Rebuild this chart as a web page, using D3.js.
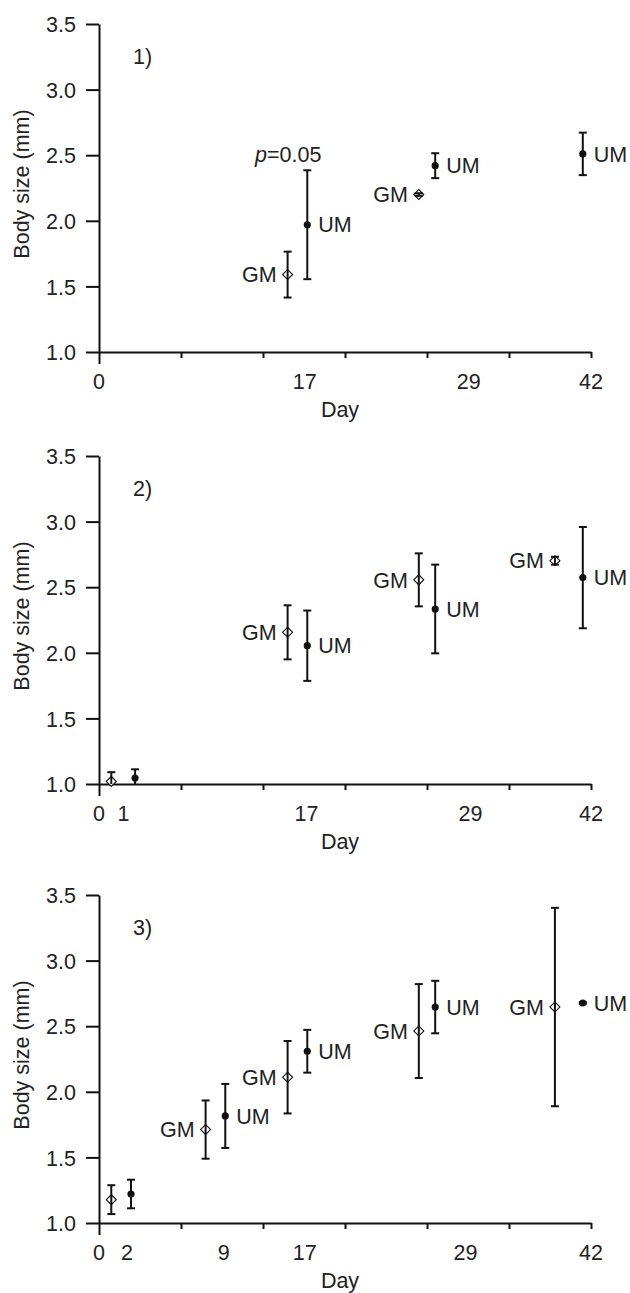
<!DOCTYPE html>
<html>
<head>
<meta charset="utf-8">
<script src="https://cdn.jsdelivr.net/npm/d3@7"></script>
<style>
    body { margin: 0; background: #fff; }
    svg { display: block; font-family: 'Liberation Sans', Arial, sans-serif; }
    .axis path, .axis line { stroke: #111; stroke-width: 2; }
    .axis text { font-size: 21.5px; fill: #222; font-family: 'Liberation Sans', Arial, sans-serif; }
    .lbl { font-size: 21.5px; fill: #222; }
</style>
</head>
<body>
<div id="chart"></div>
<script>
const config = {
    width: 630,
    height: 1293,
    left: 99,
    right: 591,
    panelHeight: 328,
    labelGap: 11
};

const panelTops = [24, 456, 895];

// axis ticks (x axis is in evenly spaced slot units, 0..6)
const xSlots = [0, 1, 2, 3, 4, 5, 6];
const yTicks = [1.0, 1.5, 2.0, 2.5, 3.0, 3.5];

// panel 1
const dayLabels1 = ['0', '17', '29', '42'];
const dayPos1 = [0, 2.51, 4.51, 6];
const slot1 = [2.30, 2.54, 3.90, 4.10, 5.90];
const group1 = ['GM', 'UM', 'GM', 'UM', 'UM'];
const mean1 = [1.59, 1.97, 2.20, 2.42, 2.51];
const err1 = [0.175, 0.415, 0.01, 0.095, 0.162];
const named1 = [true, true, true, true, true];

// panel 2
const dayLabels2 = ['0', '1', '17', '29', '42'];
const dayPos2 = [0, 0.30, 2.53, 4.53, 6];
const slot2 = [0.15, 0.44, 2.30, 2.54, 3.90, 4.10, 5.56, 5.90];
const group2 = ['GM', 'UM', 'GM', 'UM', 'GM', 'UM', 'GM', 'UM'];
const mean2 = [1.02, 1.045, 2.156, 2.054, 2.556, 2.334, 2.702, 2.573];
const err2 = [0.07, 0.067, 0.206, 0.268, 0.202, 0.338, 0.03, 0.386];
const named2 = [false, false, true, true, true, true, true, true];

// panel 3
const dayLabels3 = ['0', '2', '9', '17', '29', '42'];
const dayPos3 = [0, 0.34, 1.52, 2.51, 4.47, 6];
const slot3 = [0.15, 0.39, 1.30, 1.54, 2.30, 2.54, 3.90, 4.10, 5.56, 5.90];
const group3 = ['GM', 'UM', 'GM', 'UM', 'GM', 'UM', 'GM', 'UM', 'GM', 'UM'];
const mean3 = [1.178, 1.221, 1.712, 1.816, 2.111, 2.309, 2.463, 2.646, 2.646, 2.677];
const err3 = [0.11, 0.109, 0.222, 0.244, 0.276, 0.163, 0.358, 0.2, 0.756, 0.006];
const named3 = [false, false, true, true, true, true, true, true, true, true];

const panels = [
    { tag: '1)', days: dayLabels1, dayPos: dayPos1, slot: slot1, group: group1, mean: mean1, err: err1, named: named1 },
    { tag: '2)', days: dayLabels2, dayPos: dayPos2, slot: slot2, group: group2, mean: mean2, err: err2, named: named2 },
    { tag: '3)', days: dayLabels3, dayPos: dayPos3, slot: slot3, group: group3, mean: mean3, err: err3, named: named3 }
];

const svg = d3.select('#chart')
    .append('svg')
    .attr('width', config.width)
    .attr('height', config.height)
    .attr('viewBox', [0, 0, config.width, config.height]);

svg.append('rect')
    .attr('width', config.width)
    .attr('height', config.height)
    .attr('fill', '#fff');

const diamond = d3.symbol().type(d3.symbolSquare).size(50);

panels.forEach((p, i) => {
    const top = panelTops[i];
    const bottom = top + config.panelHeight;

    const x = d3.scaleLinear().domain([0, 6]).range([config.left, config.right]);
    const y = d3.scaleLinear().domain([1, 3.5]).range([bottom, top]);

    const g = svg.append('g');

    const xAxis = g.append('g')
        .attr('class', 'axis')
        .attr('transform', `translate(0,${bottom})`)
        .call(d3.axisBottom(x).tickValues(xSlots).tickFormat('').tickSize(6).tickSizeOuter(0));
    xAxis.select('.tick line').attr('y2', 12);

    g.append('g')
        .attr('class', 'axis')
        .attr('transform', `translate(${config.left},0)`)
        .call(d3.axisLeft(y).tickValues(yTicks).tickFormat(d3.format('.1f')).tickSize(13).tickPadding(10).tickSizeOuter(0))
        .call(a => a.selectAll('.tick text').attr('dy', '0.36em'));

    g.selectAll('text.day')
        .data(p.days)
        .join('text')
        .attr('class', 'lbl day')
        .attr('x', (d, j) => x(p.dayPos[j]))
        .attr('y', bottom + 37)
        .attr('text-anchor', 'middle')
        .text(d => d);

    g.append('text')
        .attr('class', 'lbl')
        .attr('x', 340)
        .attr('y', bottom + 65)
        .attr('text-anchor', 'middle')
        .text('Day');

    g.append('text')
        .attr('class', 'lbl')
        .attr('transform', `translate(29,${(top + bottom) / 2 - 4}) rotate(-90)`)
        .attr('text-anchor', 'middle')
        .text('Body size (mm)');

    g.append('text')
        .attr('class', 'lbl')
        .attr('x', 133)
        .attr('y', top + 40)
        .text(p.tag);

    const pts = p.mean.map((m, j) => ({
        x: p.slot[j], m: m, e: p.err[j], group: p.group[j], named: p.named[j]
    }));

    // markers
    g.selectAll('path.gm')
        .data(pts.filter(d => d.group === 'GM'))
        .join('path')
        .attr('transform', d => `translate(${x(d.x)},${y(d.m)}) rotate(45)`)
        .attr('d', diamond)
        .attr('fill', '#fff')
        .attr('stroke', '#111')
        .attr('stroke-width', 1.1);

    g.selectAll('circle.um')
        .data(pts.filter(d => d.group === 'UM'))
        .join('circle')
        .attr('cx', d => x(d.x))
        .attr('cy', d => y(d.m))
        .attr('r', 3.6)
        .attr('fill', '#111');

    // error bars, cut at the x axis
    const bars = g.append('g')
        .attr('stroke', '#111')
        .attr('stroke-width', 2)
        .selectAll('g')
        .data(pts)
        .join('g');

    bars.append('line')
        .attr('x1', d => x(d.x))
        .attr('x2', d => x(d.x))
        .attr('y1', d => y(d.m + d.e))
        .attr('y2', d => y(Math.max(d.m - d.e, 1)));

    bars.append('line')
        .attr('x1', d => x(d.x) - 4)
        .attr('x2', d => x(d.x) + 4)
        .attr('y1', d => y(d.m + d.e))
        .attr('y2', d => y(d.m + d.e));

    bars.filter(d => d.m - d.e >= 1)
        .append('line')
        .attr('x1', d => x(d.x) - 4)
        .attr('x2', d => x(d.x) + 4)
        .attr('y1', d => y(d.m - d.e))
        .attr('y2', d => y(d.m - d.e));

    g.selectAll('text.grp')
        .data(pts.filter(d => d.named))
        .join('text')
        .attr('class', 'lbl grp')
        .attr('x', d => x(d.x) + (d.group === 'GM' ? -config.labelGap : config.labelGap))
        .attr('y', d => y(d.m))
        .attr('dy', '0.36em')
        .attr('text-anchor', d => d.group === 'GM' ? 'end' : 'start')
        .text(d => d.group);

    if (i === 0) {
        const top17 = pts[1];
        g.append('text')
            .attr('class', 'lbl')
            .attr('x', x(top17.x) - 19)
            .attr('y', y(top17.m + top17.e) - 8)
            .attr('text-anchor', 'middle')
            .call(t => t.append('tspan').attr('font-style', 'italic').text('p'))
            .call(t => t.append('tspan').text('=0.05'));
    }
});
</script>
</body>
</html>
